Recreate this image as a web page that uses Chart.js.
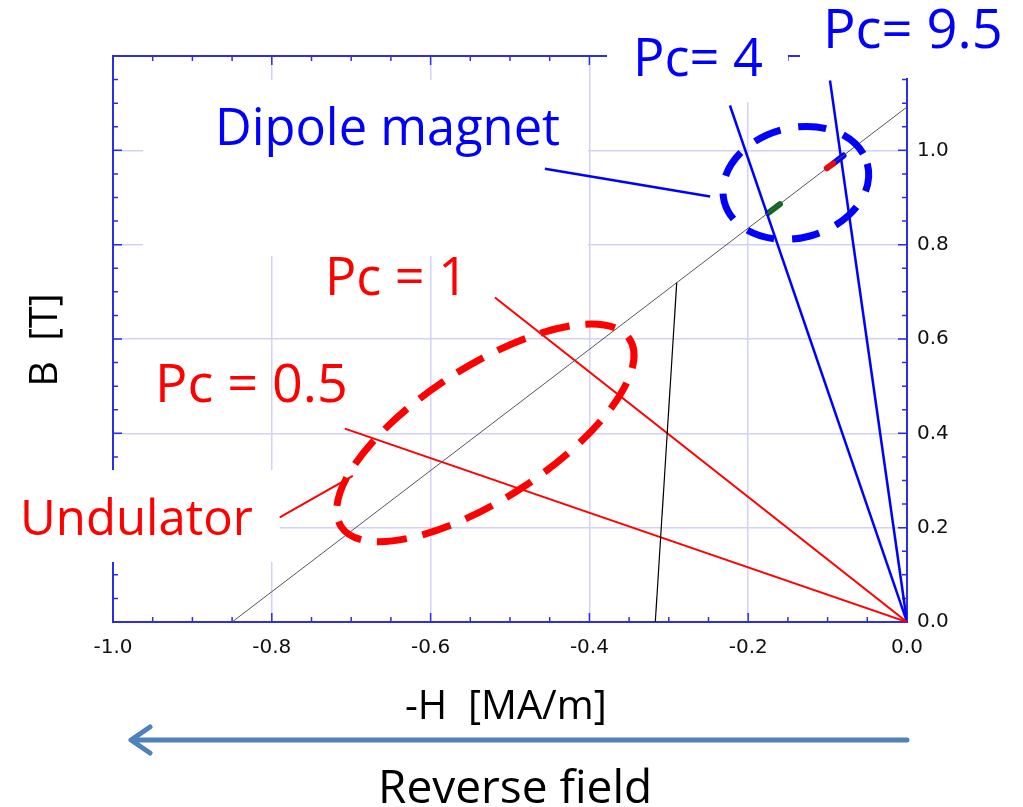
<!DOCTYPE html>
<html>
<head>
<meta charset="utf-8">
<script src="https://cdn.jsdelivr.net/npm/chart.js@4.4.1/dist/chart.umd.min.js"></script>
<style>
  html, body { margin: 0; padding: 0; background: #fff; }
  .box { width: 1023px; height: 807px; position: relative; }
</style>
</head>
<body>
<div class="box"><canvas id="bh"></canvas></div>
<script>
// demagnetisation curve and load lines, -H in MA/m, B in T
const demagH = [-0.85, 0]
const demagB = [0, 1.092]
const loadH = [-0.317, -0.29]
const loadB = [0, 0.72]
const pc05H = [-0.708, 0]
const pc05B = [0.41, 0]
const pc1H = [-0.519, 0]
const pc1B = [0.688, 0]
const pc4H = [-0.223, 0]
const pc4B = [1.095, 0]
const pc95H = [-0.097, 0]
const pc95B = [1.148, 0]
// leader lines of the two callouts
const dipoleLeadH = [-0.456, -0.248]
const dipoleLeadB = [0.961, 0.902]
const undLeadH = [-0.790, -0.698]
const undLeadB = [0.222, 0.310]
// working points on the curve
const greenH = [-0.175, -0.160]
const greenB = [0.867, 0.886]
const redH = [-0.101, -0.093]
const redB = [0.962, 0.972]
const blueH = [-0.093, -0.080]
const blueB = [0.972, 0.989]

const xTickLabels = ['-1.0', '-0.8', '-0.6', '-0.4', '-0.2', '0.0']
const yTickLabels = ['0.0', '0.2', '0.4', '0.6', '0.8', '1.0']

const AXIS = '#2d2de6'
const GRID = '#d2d2f8'

const pts = (xs, ys) => xs.map((x, i) => ({x: x, y: ys[i]}))

function line(xs, ys, color, width, cap) {
    return {
        data: pts(xs, ys),
        showLine: true,
        borderColor: color,
        borderWidth: width,
        borderCapStyle: cap || 'butt',
        pointRadius: 0,
        fill: false
    }
}

const isMajor = v => Math.abs(v / 0.2 - Math.round(v / 0.2)) < 1e-6
const labelFor = (v, list) => {
    if (!isMajor(v)) return ''
    const s = (Math.abs(v) < 1e-9 ? 0 : v).toFixed(1)
    return list.includes(s) ? s : ''
}

// text boxes with white fill that sit over the frame
const whiteBoxes = [
    [800, 0, 223, 78],
    [607, 0, 181, 102],
    [143, 80, 445, 176],
    [0, 470, 280, 92]
]

const labels = [
    {t: 'Pc= 9.5', x: 823, y: 48, w: 180, c: '#0000ff'},
    {t: 'Pc= 4', x: 633, y: 76, w: 130, c: '#0000ff'},
    {t: 'Dipole magnet', x: 215, y: 145, w: 345, c: '#0000ff'},
    {t: 'Pc = 1', x: 325, y: 295, w: 143, c: '#ff0000'},
    {t: 'Pc = 0.5', x: 155, y: 402, w: 193, c: '#ff0000'},
    {t: 'Undulator', x: 20, y: 535, w: 233, c: '#ff0000'},
    {t: '-H  [MA/m]', x: 405, y: 719, w: 202, c: '#000'},
    {t: 'Reverse field', x: 378, y: 803, w: 274, c: '#000'}
]

const ellipses = [
    {h: -0.531, b: 0.401, rx: 172, ry: 66, rot: -33, c: '#ff0000', dash: [30, 16]},
    {h: -0.140, b: 0.931, rx: 74, ry: 55, rot: -15, c: '#0000ff', dash: [28, 18]}
]

const FONT = '"Open Sans", Lato, sans-serif'

function fitFont(ctx, text, w) {
    ctx.font = `40px ${FONT}`
    const size = 40 * w / ctx.measureText(text).width
    return `${size.toFixed(1)}px ${FONT}`
}

const frame = {
    id: 'frame',
    beforeDatasetsDraw(chart) {
        const ctx = chart.ctx
        const a = chart.chartArea
        const xs = chart.scales.x
        const ys = chart.scales.y
        ctx.save()
        ctx.strokeStyle = AXIS
        ctx.lineWidth = 2
        ctx.strokeRect(a.left, a.top, a.right - a.left, a.bottom - a.top)
        ctx.lineWidth = 1.5
        ctx.beginPath()
        xs.ticks.forEach(t => {
            const p = xs.getPixelForValue(t.value)
            const len = isMajor(t.value) ? 9 : 5
            ctx.moveTo(p, a.bottom); ctx.lineTo(p, a.bottom - len)
            ctx.moveTo(p, a.top); ctx.lineTo(p, a.top + len)
        })
        ys.ticks.forEach(t => {
            const p = ys.getPixelForValue(t.value)
            const len = isMajor(t.value) ? 9 : 5
            ctx.moveTo(a.left, p); ctx.lineTo(a.left + len, p)
            ctx.moveTo(a.right, p); ctx.lineTo(a.right - len, p)
        })
        ctx.stroke()
        ctx.fillStyle = '#fff'
        whiteBoxes.forEach(r => ctx.fillRect(r[0], r[1], r[2], r[3]))
        ctx.restore()
    },
    afterDatasetsDraw(chart) {
        const ctx = chart.ctx
        const xs = chart.scales.x
        const ys = chart.scales.y
        ctx.save()
        ellipses.forEach(e => {
            ctx.beginPath()
            ctx.ellipse(xs.getPixelForValue(e.h), ys.getPixelForValue(e.b), e.rx, e.ry,
                e.rot * Math.PI / 180, 0, Math.PI * 2)
            ctx.strokeStyle = e.c
            ctx.lineWidth = 7
            ctx.setLineDash(e.dash)
            ctx.stroke()
        })
        ctx.setLineDash([])

        labels.forEach(l => {
            ctx.font = fitFont(ctx, l.t, l.w)
            ctx.fillStyle = l.c
            ctx.textAlign = 'left'
            ctx.textBaseline = 'alphabetic'
            ctx.fillText(l.t, l.x, l.y)
        })

        // y axis title
        ctx.save()
        ctx.translate(57, 340)
        ctx.rotate(-Math.PI / 2)
        ctx.font = fitFont(ctx, 'B  [T]', 93)
        ctx.fillStyle = '#000'
        ctx.textAlign = 'center'
        ctx.fillText('B  [T]', 0, 0)
        ctx.restore()

        // reverse field arrow
        ctx.strokeStyle = '#4f81bd'
        ctx.lineWidth = 5
        ctx.lineCap = 'round'
        ctx.lineJoin = 'round'
        ctx.beginPath()
        ctx.moveTo(907, 740)
        ctx.lineTo(131, 740)
        ctx.moveTo(150, 727)
        ctx.lineTo(131, 740)
        ctx.lineTo(150, 753)
        ctx.stroke()
        ctx.restore()
    }
}

new Chart(document.getElementById('bh'), {
    type: 'scatter',
    data: {
        datasets: [
            line(demagH, demagB, '#555', 1),
            line(loadH, loadB, '#000', 1.2),
            line(pc05H, pc05B, '#ff0000', 2),
            line(pc1H, pc1B, '#ff0000', 2),
            line(pc4H, pc4B, '#0000ff', 2.5),
            line(pc95H, pc95B, '#0000ff', 2.5),
            line(dipoleLeadH, dipoleLeadB, '#0000ff', 2.5),
            line(undLeadH, undLeadB, '#ff0000', 2),
            line(greenH, greenB, '#0b6b1a', 6, 'round'),
            line(redH, redB, '#ff0000', 6, 'round'),
            line(blueH, blueB, '#0000ff', 6, 'round')
        ]
    },
    options: {
        responsive: true,
        maintainAspectRatio: false,
        animation: false,
        layout: {padding: {left: 113, top: 56, right: 0, bottom: 0}},
        plugins: {legend: {display: false}, tooltip: {enabled: false}},
        scales: {
            x: {
                type: 'linear',
                min: -1,
                max: 0,
                afterFit: s => { s.height = 185 },
                border: {display: false},
                grid: {
                    drawTicks: false,
                    color: c => isMajor(c.tick.value) ? GRID : 'rgba(0,0,0,0)',
                    lineWidth: 1.5
                },
                ticks: {
                    stepSize: 0.05,
                    autoSkip: false,
                    maxRotation: 0,
                    padding: 14,
                    color: '#111',
                    font: {family: 'DejaVu Sans', size: 20},
                    callback: v => labelFor(v, xTickLabels)
                }
            },
            y: {
                type: 'linear',
                position: 'right',
                min: 0,
                max: 1.2,
                afterFit: s => { s.width = 116 },
                border: {display: false},
                grid: {
                    drawTicks: false,
                    color: c => isMajor(c.tick.value) ? GRID : 'rgba(0,0,0,0)',
                    lineWidth: 1.5
                },
                ticks: {
                    stepSize: 0.05,
                    autoSkip: false,
                    padding: 10,
                    color: '#111',
                    font: {family: 'DejaVu Sans', size: 20},
                    callback: v => labelFor(v, yTickLabels)
                }
            }
        }
    },
    plugins: [frame]
})
</script>
</body>
</html>
